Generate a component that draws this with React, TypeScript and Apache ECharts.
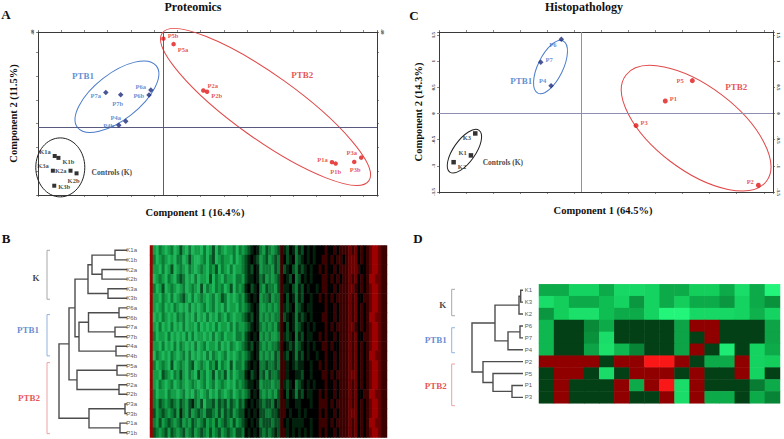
import React, { useEffect, useRef } from 'react';
import * as echarts from 'echarts';

// ---------------- Panel A: Proteomics PCA ----------------
const ctrlNamesA = ['K1a', 'K1b', 'K3a', 'K2a', 'K2b', 'K3b'];
const ctrlXA = [-23.4, -22.6, -23.8, -20.0, -18.7, -23.5];
const ctrlYA = [-12.1, -12.9, -18.3, -18.3, -19.4, -24.6];
const ptb1NamesA = ['P7a', 'P7b', 'P6a', 'P6b', 'P4a', 'P4b'];
const ptb1XA = [-12.4, -9.2, -2.7, -3.1, -8.1, -9.6];
const ptb1YA = [14.6, 13.6, 15.6, 13.5, 2.5, 0.8];
const ptb2NamesA = ['P5b', 'P5a', 'P2a', 'P2b', 'P1a', 'P1b', 'P3a', 'P3b'];
const ptb2XA = [0, 2.2, 8.6, 9.4, 36.3, 37.1, 42.6, 41.1];
const ptb2YA = [37.2, 34.9, 15.4, 14.9, -14.7, -15.3, -12.8, -14.6];

// ---------------- Panel C: Histopathology PCA ----------------
const ctrlNamesC = ['K3', 'K1', 'K2'];
const ctrlXC = [-1.95, -2.03, -2.35];
const ctrlYC = [-0.38, -0.8, -0.93];
const ptb1NamesC = ['P6', 'P7', 'P4'];
const ptb1XC = [-0.36, -0.74, -0.55];
const ptb1YC = [1.42, 0.98, 0.53];
const ptb2NamesC = ['P5', 'P1', 'P3', 'P2'];
const ptb2XC = [2.06, 1.56, 1.02, 3.28];
const ptb2YC = [0.63, 0.24, -0.23, -1.37];

// ---------------- Panel B: proteomics dendrogram + heatmap ----------------
const leavesB = ['K1a', 'K1b', 'K2a', 'K2b', 'K3a', 'K3b', 'P6a', 'P6b', 'P7a', 'P7b', 'P4a', 'P4b', 'P5a', 'P5b', 'P2a', 'P2b', 'P3a', 'P3b', 'P1a', 'P1b'];
const treeB: any = [[[[[['K1a', 'K1b', 12], ['K2a', 'K2b', 25], 35], ['K3a', 'K3b', 19], 39], [[['P6a', 'P6b', 8], ['P7a', 'P7b', 12], 38.5], ['P4a', 'P4b', 11], 48], 52], [['P5a', 'P5b', 10], ['P2a', 'P2b', 8], 50], 58], [['P3a', 'P3b', 2], ['P1a', 'P1b', 7], 38], 68];
// expression level per cell (0 = strong green ... 6 = black ... 9 = strong red)
const heatRowsB = [
  '9213212312 4213122131 2413212231 3234565324 3234754653 5465656667 6676777878 6767899877',
  '9312321213 3124211231 3412322131 2345654234 2343764563 4565656677 6767767888 6767899877',
  '9221312412 3213212321 3241321312 2345465233 3243745643 5456566767 6676777888 7667899877',
  '9123213213 4312131221 4132132213 3245565342 3234765463 4656566677 6767677878 6767998877',
  '9312412321 2312321413 2132312413 2356456324 3324755643 5465665677 6676777887 6767899877',
  '9221321312 3421312321 2312431212 3245656233 4233764653 5466566767 6767777878 6677899877',
  '9212312132 1213121231 2312131221 3234565223 2323754563 4565566667 6676777878 6767899877',
  '9121321213 2312131213 1213213212 2345465232 3233745653 5456566677 6676777878 6767998877',
  '9213121312 1312213121 2131221313 2234565323 2324764653 4565656667 6767777887 6767899877',
  '9312213121 2131312212 1312312213 3245656232 3223754563 5465566767 6676777878 6677899877',
  '9221312131 3212131231 2213121321 2345465323 2334765453 4565656677 6766777878 6767899877',
  '9132121321 2313121213 1321231212 3234565232 3243754653 5465665667 6676777878 6767998877',
  '9312321412 3213412321 3241321413 3245656334 3343775654 5566566767 6676777878 6767899877',
  '9221432132 4213214231 2413241312 3356456342 4334775665 5466566677 6767777888 6767899877',
  '9213212312 3212321231 2312321213 2345565233 3233754563 4565656667 6676777878 6767899877',
  '9312213221 2312132123 1213212312 3234656323 2324764653 5465566767 6676777878 6677998877',
  '9324323432 4324532413 3424342432 4356565434 4354775665 5666566777 6767777878 6767899877',
  '9423432342 5324234324 4324243423 4465656443 3445776566 5656666767 6676777888 6767899877',
  '9324234323 4232432342 3242343242 3456565344 4344765655 5566566777 6767777878 6767998877',
  '9432342432 3423423432 4234234324 4365656434 3454775656 5656566767 6676777878 6767899877',
];
const levelValuesB = [-3, -2.4, -1.8, -1.2, -0.7, -0.3, 0, 0.8, 1.6, 2.6];

// ---------------- Panel D: histopathology dendrogram + heatmap ----------------
const leavesD = ['K1', 'K3', 'K2', 'P6', 'P7', 'P4', 'P2', 'P5', 'P1', 'P3'];
const treeD: any = [[[['K1', 'K3', 2.3], 'K2', 4], [['P6', 'P7', 3], 'P4', 15], 28], ['P2', ['P5', ['P1', 'P3', 11], 30], 40], 51];
const heatK1 = [-1.6, -1.6, -2.3, -2.3, -1.6, -2.4, -2.4, -2.3, -1.6, -1.6, -2.2, -2.2, -1.6, -2.5, -1.6, -3];
const heatK3 = [-2.5, -2.2, -1.6, -1.6, -1.9, -2.3, -1.3, -2.3, -1.6, -2.2, -1.6, -1.6, -1.3, -2.3, -1.6, -1.2];
const heatK2 = [-1.3, -2.2, -2.6, -2.6, -1.9, -1.6, -1.6, -2.3, -3, -3, -2.4, -2.4, -2.4, -2.3, -1.7, -2.3];
const heatP6 = [-1.8, -0.2, -0.2, -1.1, -1.6, -0.2, -0.2, -0.2, -0.2, -1.5, 1.1, 1.1, -0.2, -0.2, -0.2, -1.5];
const heatP7 = [-1.8, -0.2, -0.2, -1.2, -2.5, -0.2, -0.2, -0.2, -0.2, -1.5, -0.2, 1.1, -0.2, -0.2, -0.2, -1.5];
const heatP4 = [-1.8, -0.2, -0.2, -1.5, -2.6, -1.8, -1.0, -0.2, -0.2, -1.5, 1.1, -0.2, -2.8, -0.2, -2.3, -1.6];
const heatP2 = [1.1, 1.1, 1.1, 1.1, -0.2, 1.1, 1.1, 2.9, 2.9, 1.1, -0.2, -1.6, -1.6, 1.1, -2.3, -2.2];
const heatP5 = [-0.2, 1.1, 1.1, -0.2, -2.5, -0.2, 1.1, 1.1, 1.1, -0.2, 1.1, -0.2, -0.2, 1.1, -2.3, -0.2];
const heatP1 = [-0.2, 1.1, -0.2, -0.2, -0.2, 1.1, -1.6, 1.1, 2.9, -2.5, 1.1, -0.2, -0.2, -0.2, -0.9, -1.6];
const heatP3 = [-0.2, 1.1, -0.2, -0.2, -0.2, 1.1, -0.2, -0.2, 1.1, -2.5, 1.1, -1.6, -1.6, -0.2, -1.6, -1.0];
const heatRowsD = [heatK1, heatK3, heatK2, heatP6, heatP7, heatP4, heatP2, heatP5, heatP1, heatP3];

// ---------------- styling / annotations ----------------
const SERIF = '"Liberation Serif", "Times New Roman", serif';
const SANS = '"Liberation Sans", Arial, sans-serif';
const BLUE = '#3d6fc6';
const RED = '#e02a2a';
const NAVY = '#1b2a7a';

type Place = [string, number, number];
const placeA: Record<string, Place> = {
  K1a: ['left', 0, -4], K1b: ['right', 0, 4], K3a: ['left', 0, -5], K2a: ['left', 0, 0], K2b: ['bottom', -3, 0], K3b: ['right', 0, 1],
  P7a: ['left', 0, 3], P7b: ['bottom', -3, 0], P6a: ['left', 0, -4], P6b: ['left', 0, 0], P4a: ['left', 0, -4], P4b: ['left', 0, 0],
  P5b: ['right', 0, -3], P5a: ['right', 0, 5], P2a: ['right', 0, -5], P2b: ['right', 0, 4], P1a: ['left', 0, -3], P1b: ['bottom', 0, 0], P3a: ['left', 0, -5], P3b: ['bottom', 1, 0],
};
const placeC: Record<string, Place> = {
  P6: ['left', 0, 5], P7: ['right', 0, -3], P4: ['left', 0, -5], K3: ['left', 0, 4], K1: ['left', 0, -3], K2: ['right', 0, 4],
  P5: ['left', -4, 0], P1: ['right', 0, -3], P3: ['right', 0, -3], P2: ['left', 0, -4],
};
const ellipsesA = [
  { cx: -10.0, cy: 12.8, rx: 50, ry: 23, angle: 38, color: '#4a7cc9' },
  { cx: -22.2, cy: -16.9, rx: 24.5, ry: 29.5, angle: 0, color: '#222' },
  { cx: 22.0, cy: 8.5, rx: 127, ry: 32, angle: -35.6, color: '#e04848' },
];
const ellipsesC = [
  { cx: -0.56, cy: 0.89, rx: 29, ry: 12.5, angle: 64, color: '#4a7cc9' },
  { cx: -2.15, cy: -0.72, rx: 25.5, ry: 11, angle: 55, color: '#222' },
  { cx: 2.13, cy: -0.28, rx: 88, ry: 42, angle: -37, color: '#e04848' },
];
const groupTextA = [
  { text: 'PTB1', x: -17.3, y: 21.7, color: BLUE, size: 9 },
  { text: 'Controls (K)', x: -11.1, y: -19.1, color: '#111', size: 7.5 },
  { text: 'PTB2', x: 29.9, y: 22, color: RED, size: 9 },
];
const groupTextC = [
  { text: 'PTB1', x: -1.1, y: 0.62, color: BLUE, size: 9 },
  { text: 'Controls (K)', x: -1.44, y: -0.93, color: '#111', size: 7.5 },
  { text: 'PTB2', x: 2.87, y: 0.5, color: RED, size: 9 },
];
const bracketsB = [
  { text: 'K', from: 0, to: 5.1, color: '#a8a8a8', tc: '#111', tx: 91, ty: 2.85 },
  { text: 'PTB1', from: 6.7, to: 11, color: '#90b3dd', tc: BLUE, tx: 99, ty: 8.3 },
  { text: 'PTB2', from: 11.7, to: 19.1, color: '#eba3a3', tc: RED, tx: 98, ty: 15.4 },
];
const bracketsD = [
  { text: 'K', from: -0.08, to: 2.14, color: '#a8a8a8', tc: '#111', tx: 80.3, ty: 1.24 },
  { text: 'PTB1', from: 3.15, to: 5.25, color: '#90b3dd', tc: BLUE, tx: 87.3, ty: 4.18 },
  { text: 'PTB2', from: 6.2, to: 9.7, color: '#eba3a3', tc: RED, tx: 87.3, ty: 8.05 },
];

function dendroSegments(tree: any, leaves: string[]) {
  const segs: number[][] = [];
  const walk = (node: any): { y: number; h: number } => {
    if (typeof node === 'string') return { y: leaves.indexOf(node), h: 0 };
    const a = walk(node[0]);
    const b = walk(node[1]);
    segs.push([node[2], a.y, a.h, b.y, b.h]);
    return { y: (a.y + b.y) / 2, h: node[2] };
  };
  walk(tree);
  return segs;
}

const stepFmt = (step: number) => (v: number) =>
  Math.abs(v / step - Math.round(v / step)) < 1e-6 ? String(+v.toFixed(2)) : '';

function scatterAxes(grid: number, xr: number[], yr: number[]) {
  const base = (min: number, max: number, interval: number, pos: string, rotate: number, margin: number) => ({
    gridIndex: grid, type: 'value', min, max, interval, position: pos,
    axisLine: { show: true, onZero: false, lineStyle: { color: '#3a3a3a', width: 1 } },
    axisTick: { show: true, length: 2, lineStyle: { color: '#3a3a3a', width: 0.6 } },
    axisLabel: { show: true, fontSize: 5, color: '#333', margin, rotate, fontFamily: SERIF, fontWeight: 'bold', formatter: stepFmt(interval) },
    splitLine: { show: false },
  });
  return {
    x: [base(xr[0], xr[1], xr[2], 'bottom', 0, 2), base(xr[0], xr[1], xr[2], 'top', 0, 2)],
    y: [base(yr[0], yr[1], yr[2], 'left', 90, 3), base(yr[0], yr[1], yr[2], 'right', -90, 3)],
  };
}

function pts(names: string[], xs: number[], ys: number[], place: Record<string, Place>) {
  return names.map((n, i) => ({
    name: n, value: [xs[i], ys[i]],
    label: { position: place[n][0], offset: [place[n][1], place[n][2]] },
  }));
}

function groupScatter(names: string[], xs: number[], ys: number[], place: Record<string, Place>, ax: number, symbol: string, size: number, color: string, labelColor: string) {
  return {
    type: 'scatter', xAxisIndex: ax, yAxisIndex: ax, symbol, symbolSize: size, clip: false,
    itemStyle: { color },
    label: { show: true, formatter: '{b}', fontSize: 6.5, fontWeight: 'bold', fontFamily: SERIF, color: labelColor, distance: 2 },
    data: pts(names, xs, ys, place),
    z: 5,
  };
}

function ellipseSeries(list: any[], ax: number) {
  return {
    type: 'custom', xAxisIndex: ax, yAxisIndex: ax, clip: false, silent: true,
    data: list.map((e) => [e.cx, e.cy]),
    renderItem: (params: any, api: any) => {
      const e = list[params.dataIndex];
      const p = api.coord([api.value(0), api.value(1)]);
      return {
        type: 'ellipse', x: p[0], y: p[1], rotation: (e.angle * Math.PI) / 180,
        shape: { cx: 0, cy: 0, rx: e.rx, ry: e.ry },
        style: { fill: 'none', stroke: e.color, lineWidth: 1 },
      };
    },
    z: 2,
  };
}

function textScatter(list: any[], ax: number) {
  return {
    type: 'scatter', xAxisIndex: ax, yAxisIndex: ax, symbolSize: 0, clip: false, silent: true,
    data: list.map((t) => ({
      name: t.text, value: [t.x, t.y],
      label: { show: true, position: 'inside', formatter: '{b}', color: t.color, fontSize: t.size, fontWeight: 'bold', fontFamily: SERIF },
    })),
    z: 6,
  };
}

function zeroLines(color: string) {
  return {
    silent: true, symbol: 'none', label: { show: false }, animation: false,
    lineStyle: { color, width: 1, type: 'solid' },
    data: [{ xAxis: 0 }, { yAxis: 0 }],
  };
}

function dendroSeries(tree: any, leaves: string[], ax: number) {
  return {
    type: 'custom', xAxisIndex: ax, yAxisIndex: ax, silent: true,
    encode: { x: [0, 2, 4], y: [1, 3] },
    data: dendroSegments(tree, leaves),
    renderItem: (params: any, api: any) => {
      const h = api.value(0), ya = api.value(1), ha = api.value(2), yb = api.value(3), hb = api.value(4);
      return {
        type: 'polyline',
        shape: { points: [api.coord([ha, ya]), api.coord([h, ya]), api.coord([h, yb]), api.coord([hb, yb])] },
        style: { stroke: '#4d4d4d', lineWidth: 1.4, fill: null },
      };
    },
  };
}

function bracketSeries(list: any[], ax: number, hb: number, ht: number) {
  return {
    type: 'custom', xAxisIndex: ax, yAxisIndex: ax, silent: true,
    data: list.map((b) => [b.from, b.to]),
    renderItem: (params: any, api: any) => {
      const b = list[params.dataIndex];
      return {
        type: 'polyline',
        shape: { points: [api.coord([ht, b.from]), api.coord([hb, b.from]), api.coord([hb, b.to]), api.coord([ht, b.to])] },
        style: { stroke: b.color, lineWidth: 1, fill: null },
      };
    },
  };
}

function bracketText(list: any[], ax: number) {
  return textScatter(list.map((b) => ({ text: b.text, x: b.tx, y: b.ty, color: b.tc, size: 9 })), ax);
}

function gtext(text: string, x: number, y: number, size: number) {
  return {
    type: 'text', x, y,
    style: {
      text, fill: '#111', font: `bold ${size}px ${SERIF}`,
      align: 'center', verticalAlign: 'middle', textAlign: 'center', textVerticalAlign: 'middle',
    },
  };
}

export default function App() {
  const ref = useRef<HTMLDivElement>(null);
  useEffect(() => {
    document.body.style.margin = '0';
    if (!ref.current) return;
    const chart = echarts.init(ref.current, undefined, { renderer: 'svg' });

    const axA = scatterAxes(0, [-27, 46, 5], [-28.5, 40, 10]);
    const axC = scatterAxes(1, [-2.62, 3.55, 0.5], [-1.5, 1.56, 0.5]);
    Object.assign(axA.x[0], {
      name: 'Component 1 (16.4%)', nameLocation: 'middle', nameGap: 12,
      nameTextStyle: { fontFamily: SERIF, fontWeight: 'bold', fontSize: 10.5, color: '#111', padding: [0, 25, 0, 0] },
    });
    Object.assign(axA.y[0], {
      name: 'Component 2 (11.5%)', nameLocation: 'middle', nameGap: 19, nameRotate: 90,
      nameTextStyle: { fontFamily: SERIF, fontWeight: 'bold', fontSize: 10.5, color: '#111' },
    });
    Object.assign(axC.x[0], {
      name: 'Component 1 (64.5%)', nameLocation: 'middle', nameGap: 13,
      nameTextStyle: { fontFamily: SERIF, fontWeight: 'bold', fontSize: 10.5, color: '#111', padding: [0, 6, 0, 0] },
    });
    Object.assign(axC.y[0], {
      name: 'Component 2 (14.3%)', nameLocation: 'middle', nameGap: 15, nameRotate: 90,
      nameTextStyle: { fontFamily: SERIF, fontWeight: 'bold', fontSize: 10.5, color: '#111' },
    });

    const colsB = heatRowsB[0].replace(/ /g, '').split('').map((_, i) => String(i));
    const heatDataB: number[][] = [];
    heatRowsB.forEach((row, r) => {
      const s = row.replace(/ /g, '');
      colsB.forEach((_, c) => heatDataB.push([c, r, levelValuesB[+(s[c] || '6')]]));
    });
    const colsD = heatRowsD[0].map((_, i) => String(i));
    const heatDataD: number[][] = [];
    heatRowsD.forEach((row, r) => row.forEach((v, c) => heatDataD.push([c, r, v])));

    const hidden = { show: false };
    const series: any[] = [];
    // Panel A
    series.push(ellipseSeries(ellipsesA, 0));
    const sA = groupScatter(ctrlNamesA, ctrlXA, ctrlYA, placeA, 0, 'rect', 4, '#000', '#111');
    (sA as any).markLine = zeroLines('#5a5a7e');
    series.push(sA);
    series.push(groupScatter(ptb1NamesA, ptb1XA, ptb1YA, placeA, 0, 'diamond', 5.5, NAVY, BLUE));
    series.push(groupScatter(ptb2NamesA, ptb2XA, ptb2YA, placeA, 0, 'circle', 4.5, '#e01818', RED));
    series.push(textScatter(groupTextA, 0));
    // Panel C
    series.push(ellipseSeries(ellipsesC, 2));
    const sC = groupScatter(ctrlNamesC, ctrlXC, ctrlYC, placeC, 2, 'rect', 4.5, '#000', '#111');
    (sC as any).markLine = zeroLines('#8e8eb2');
    series.push(sC);
    series.push(groupScatter(ptb1NamesC, ptb1XC, ptb1YC, placeC, 2, 'diamond', 5.5, NAVY, BLUE));
    series.push(groupScatter(ptb2NamesC, ptb2XC, ptb2YC, placeC, 2, 'circle', 5, '#e01818', RED));
    series.push(textScatter(groupTextC, 2));
    // Panel B
    series.push(dendroSeries(treeB, leavesB, 4));
    series.push(bracketSeries(bracketsB, 4, 80, 77));
    series.push(bracketText(bracketsB, 4));
    const heatBIndex = series.length;
    series.push({ type: 'heatmap', xAxisIndex: 5, yAxisIndex: 5, data: heatDataB, itemStyle: { borderWidth: 0 }, silent: true });
    // Panel D
    series.push(dendroSeries(treeD, leavesD, 6));
    series.push(bracketSeries(bracketsD, 6, 71.3, 68));
    series.push(bracketText(bracketsD, 6));
    const heatDIndex = series.length;
    series.push({ type: 'heatmap', xAxisIndex: 7, yAxisIndex: 7, data: heatDataD, itemStyle: { borderWidth: 0 }, silent: true });

    const option: any = {
      animation: false,
      backgroundColor: '#ffffff',
      grid: [
        { left: 38, top: 32, width: 339, height: 163 },
        { left: 439, top: 32, width: 334, height: 160 },
        { left: 20, top: 245.5, width: 107, height: 192 },
        { left: 150, top: 245.5, width: 237, height: 192 },
        { left: 420, top: 284.3, width: 103, height: 119 },
        { left: 539, top: 284.3, width: 241, height: 119 },
      ],
      xAxis: [
        axA.x[0], axA.x[1], axC.x[0], axC.x[1],
        { gridIndex: 2, type: 'value', min: 0, max: 107, inverse: true, show: false },
        { gridIndex: 3, type: 'category', data: colsB, show: false },
        { gridIndex: 4, type: 'value', min: 0, max: 103, inverse: true, show: false },
        { gridIndex: 5, type: 'category', data: colsD, show: false },
      ],
      yAxis: [
        axA.y[0], axA.y[1], axC.y[0], axC.y[1],
        { gridIndex: 2, type: 'value', min: -0.5, max: 19.5, inverse: true, show: false },
        {
          gridIndex: 3, type: 'category', data: leavesB, inverse: true,
          axisLine: hidden, axisTick: hidden, splitLine: hidden,
          axisLabel: { fontSize: 6, color: '#5a5a5a', margin: 13, fontFamily: SANS, interval: 0 },
        },
        { gridIndex: 4, type: 'value', min: -0.5, max: 9.5, inverse: true, show: false },
        {
          gridIndex: 5, type: 'category', data: leavesD, inverse: true,
          axisLine: hidden, axisTick: hidden, splitLine: hidden,
          axisLabel: { fontSize: 6, color: '#5a5a5a', margin: 7, fontFamily: SANS, interval: 0 },
        },
      ],
      visualMap: [
        {
          type: 'continuous', show: false, min: -3, max: 3, dimension: 2, seriesIndex: heatBIndex,
          inRange: { color: ['#2bd070', '#15a84c', '#0a7030', '#000000', '#4a0000', '#800000', '#b00000'] },
        },
        {
          type: 'continuous', show: false, min: -3, max: 3, dimension: 2, seriesIndex: heatDIndex,
          inRange: { color: ['#22f57a', '#10c455', '#088436', '#022f0e', '#8a0000', '#c80000', '#ff1a1a'] },
        },
      ],
      graphic: [
        gtext('Proteomics', 193, 7, 12),
        gtext('Histopathology', 584, 7, 12),
        gtext('A', 6, 14, 13),
        gtext('C', 414, 15, 13),
        gtext('B', 6, 238, 13),
        gtext('D', 418, 238, 13),
      ],
      series,
    };
    chart.setOption(option);
    return () => chart.dispose();
  }, []);
  return <div ref={ref} style={{ width: 784, height: 439 }} />;
}
